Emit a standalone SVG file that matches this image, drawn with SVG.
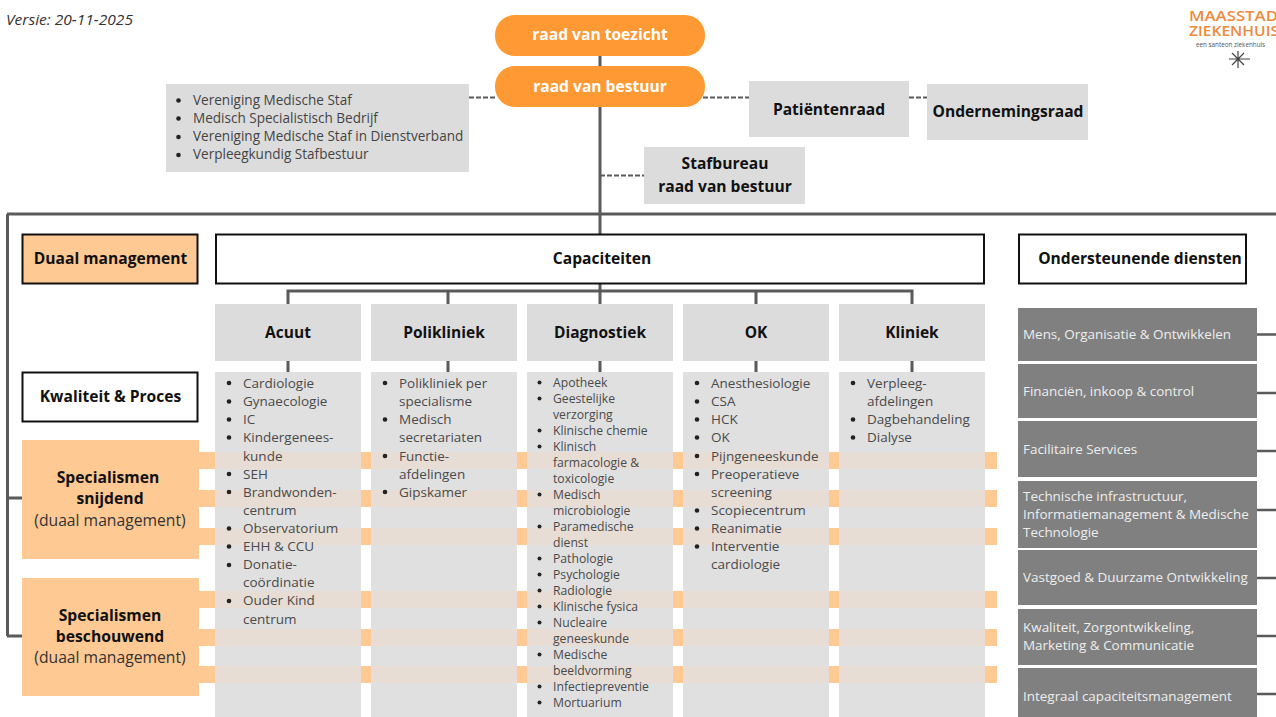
<svg xmlns="http://www.w3.org/2000/svg" width="1276" height="717" viewBox="0 0 1276 717">
<style>
text{font-family:"Open Sans","Noto Sans","DejaVu Sans",sans-serif;}
.h{font-size:15.600px;font-weight:700;fill:#111;text-anchor:middle}
.b{font-size:13.500px;fill:#4a4a4a}
.d{font-size:12.200px;fill:#4a4a4a}
.s{font-size:13.550px;fill:#444}
.w{font-size:13.450px;fill:#eee}
.p{font-size:15.600px;font-weight:700;fill:#fff;text-anchor:middle}
.n{font-size:15.700px;fill:#333;text-anchor:middle}
.box{fill:#fff;stroke:#111;stroke-width:2}
.pill{fill:#ff9933}
.lg{fill:#dcdcdc}
.col{fill:#e0e0e0}
.org{fill:#ffc993}
.band{fill:#ffc993}
.tint{fill:#e7ddd4}
.dk{fill:#808080}
.c{fill:none;stroke:#5a5a5a;stroke-width:3}
.dash{fill:none;stroke:#5a5a5a;stroke-width:2;stroke-dasharray:5 2}
.dot{fill:#222}
.logo{font-weight:600;fill:#ee8a3c;font-size:15px}
.ch{font-size:15.500px}
.sp{font-size:15.700px}
</style>
<rect width="1276" height="717" fill="#fff"/>
<text x="6" y="25" font-size="14" font-style="italic" fill="#333" textLength="127" lengthAdjust="spacingAndGlyphs">Versie: 20-11-2025</text>
<g id="connectors">
<path class="c" d="M600 56V234M7 214H1276M7.500 214V636M7 498H22M7 636H22"/>
<path class="c" d="M600 283V304M288 304V291H912V304M448 291V304M756 291V304"/>
<path class="c" d="M288 361V372M448 361V372M600 361V372M756 361V372M912 361V372"/>
<path class="c" style="stroke-width:2.500" d="M1257 334.500H1276M1257 393H1276M1257 451H1276M1257 510H1276M1257 578H1276M1257 636H1276M1257 694H1276"/>
<path class="dash" d="M469 97.500H495M703 97.500H749M909 97.500H927M600 175.500H644"/>
</g>
<g id="bands">
<rect class="band" x="196" y="452" width="801" height="17"/>
<rect class="band" x="196" y="490" width="801" height="17"/>
<rect class="band" x="196" y="528" width="801" height="17"/>
<rect class="band" x="196" y="591" width="801" height="17"/>
<rect class="band" x="196" y="629" width="801" height="17"/>
<rect class="band" x="196" y="666" width="801" height="17"/>
</g>
<g id="logo">
<text class="logo" x="1189" y="21" textLength="89" lengthAdjust="spacingAndGlyphs">MAASSTAD</text>
<text class="logo" x="1189" y="36" textLength="90" lengthAdjust="spacingAndGlyphs">ZIEKENHUIS</text>
<text x="1196" y="47" font-size="6.300" fill="#555">een santeon ziekenhuis</text>
<path d="M1238 51V68M1232 53L1244 65M1232 65L1244 53M1229 59H1250" stroke="#444" stroke-width="1.200" fill="none"/>
</g>
<g id="raad-van-toezicht"><rect class="pill" x="495" y="15" width="210" height="41" rx="20"/><text class="p" x="600" y="40">raad van toezicht</text></g>
<g id="raad-van-bestuur"><rect class="pill" x="495" y="66" width="210" height="41" rx="20"/><text class="p" x="600" y="91.500">raad van bestuur</text></g>
<g id="medische-staf"><rect class="lg" x="166" y="84" width="303" height="88"/>
<circle class="dot" cx="178.500" cy="100.500" r="2.300"/><text class="s" x="193" y="105">Vereniging Medische Staf</text>
<circle class="dot" cx="178.500" cy="118.500" r="2.300"/><text class="s" x="193" y="123">Medisch Specialistisch Bedrijf</text>
<circle class="dot" cx="178.500" cy="137" r="2.300"/><text class="s" x="193" y="141">Vereniging Medische Staf in Dienstverband</text>
<circle class="dot" cx="178.500" cy="155" r="2.300"/><text class="s" x="193" y="159">Verpleegkundig Stafbestuur</text></g>
<g id="patientenraad"><rect class="lg" x="749" y="81" width="160" height="56"/><text class="h" x="829" y="115">Patiëntenraad</text></g>
<g id="ondernemingsraad"><rect class="lg" x="927" y="84" width="161" height="56"/><text class="h" x="1008" y="117">Ondernemingsraad</text></g>
<g id="stafbureau"><rect class="lg" x="644" y="147" width="161" height="57"/><text class="h" x="725" y="169">Stafbureau</text><text class="h" x="725" y="192">raad van bestuur</text></g>
<g id="duaal-management"><rect x="22.500" y="234.500" width="175" height="49" fill="#ffc993" stroke="#111" stroke-width="2"/><text class="h" x="110.500" y="264">Duaal management</text></g>
<g id="capaciteiten"><rect class="box" x="216" y="234.500" width="768" height="49"/><text class="h" x="602" y="264">Capaciteiten</text></g>
<g id="ondersteunende-diensten"><rect class="box" x="1019" y="234.500" width="227" height="49"/><text class="h" x="1140" y="264">Ondersteunende diensten</text></g>
<g id="kwaliteit-proces"><rect class="box" x="22.500" y="372.500" width="175" height="49"/><text class="h" x="110.500" y="402">Kwaliteit &amp; Proces</text></g>
<g id="specialismen-snijdend"><rect class="org" x="22" y="440" width="177" height="119"/><text class="h sp" x="108" y="483">Specialismen</text><text class="h sp" x="110" y="504">snijdend</text><text class="n" x="110" y="526">(duaal management)</text></g>
<g id="specialismen-beschouwend"><rect class="org" x="22" y="578" width="177" height="118"/><text class="h sp" x="110" y="621">Specialismen</text><text class="h sp" x="110" y="642">beschouwend</text><text class="n" x="110" y="663">(duaal management)</text></g>

<g id="acuut"><rect class="lg" x="215" y="304" width="146" height="57"/><text class="h ch" x="288" y="338">Acuut</text>
<rect class="col" x="215" y="372" width="146" height="345"/>
<rect class="tint" x="215" y="452" width="146" height="17"/><rect class="tint" x="215" y="490" width="146" height="17"/><rect class="tint" x="215" y="528" width="146" height="17"/><rect class="tint" x="215" y="591" width="146" height="17"/><rect class="tint" x="215" y="629" width="146" height="17"/><rect class="tint" x="215" y="666" width="146" height="17"/>
<circle class="dot" cx="229" cy="383" r="2.300"/><text class="b" x="243" y="388">Cardiologie</text>
<circle class="dot" cx="229" cy="401.500" r="2.300"/><text class="b" x="243" y="406">Gynaecologie</text>
<circle class="dot" cx="229" cy="419.500" r="2.300"/><text class="b" x="243" y="424">IC</text>
<circle class="dot" cx="229" cy="437.500" r="2.300"/><text class="b" x="243" y="442">Kindergenees-</text>
<text class="b" x="243" y="460.500">kunde</text>
<circle class="dot" cx="229" cy="474" r="2.300"/><text class="b" x="243" y="479">SEH</text>
<circle class="dot" cx="229" cy="492" r="2.300"/><text class="b" x="243" y="497">Brandwonden-</text>
<text class="b" x="243" y="515">centrum</text>
<circle class="dot" cx="229" cy="528.500" r="2.300"/><text class="b" x="243" y="533">Observatorium</text>
<circle class="dot" cx="229" cy="546.500" r="2.300"/><text class="b" x="243" y="551">EHH &amp; CCU</text>
<circle class="dot" cx="229" cy="565" r="2.300"/><text class="b" x="243" y="569">Donatie-</text>
<text class="b" x="243" y="587">coördinatie</text>
<circle class="dot" cx="229" cy="601" r="2.300"/><text class="b" x="243" y="605">Ouder Kind</text>
<text class="b" x="243" y="623.500">centrum</text></g>

<g id="polikliniek"><rect class="lg" x="371" y="304" width="146" height="57"/><text class="h ch" x="444" y="338">Polikliniek</text>
<rect class="col" x="371" y="372" width="146" height="345"/>
<rect class="tint" x="371" y="452" width="146" height="17"/><rect class="tint" x="371" y="490" width="146" height="17"/><rect class="tint" x="371" y="528" width="146" height="17"/><rect class="tint" x="371" y="591" width="146" height="17"/><rect class="tint" x="371" y="629" width="146" height="17"/><rect class="tint" x="371" y="666" width="146" height="17"/>
<circle class="dot" cx="385" cy="383" r="2.300"/><text class="b" x="399" y="388">Polikliniek per</text>
<text class="b" x="399" y="406">specialisme</text>
<circle class="dot" cx="385" cy="419.500" r="2.300"/><text class="b" x="399" y="424">Medisch</text>
<text class="b" x="399" y="442">secretariaten</text>
<circle class="dot" cx="385" cy="456" r="2.300"/><text class="b" x="399" y="460.500">Functie-</text>
<text class="b" x="399" y="479">afdelingen</text>
<circle class="dot" cx="385" cy="492" r="2.300"/><text class="b" x="399" y="497">Gipskamer</text></g>

<g id="diagnostiek"><rect class="lg" x="527" y="304" width="146" height="57"/><text class="h ch" x="600" y="338">Diagnostiek</text>
<rect class="col" x="527" y="372" width="146" height="345"/>
<rect class="tint" x="527" y="452" width="146" height="17"/><rect class="tint" x="527" y="490" width="146" height="17"/><rect class="tint" x="527" y="528" width="146" height="17"/><rect class="tint" x="527" y="591" width="146" height="17"/><rect class="tint" x="527" y="629" width="146" height="17"/><rect class="tint" x="527" y="666" width="146" height="17"/>
<circle class="dot" cx="539.500" cy="382.500" r="2"/><text class="d" x="553" y="386.500">Apotheek</text>
<circle class="dot" cx="539.500" cy="398.500" r="2"/><text class="d" x="553" y="402.500">Geestelijke</text>
<text class="d" x="553" y="418.500">verzorging</text>
<circle class="dot" cx="539.500" cy="430.500" r="2"/><text class="d" x="553" y="434.500">Klinische chemie</text>
<circle class="dot" cx="539.500" cy="446.500" r="2"/><text class="d" x="553" y="450.500">Klinisch</text>
<text class="d" x="553" y="466.500">farmacologie &amp;</text>
<text class="d" x="553" y="482.500">toxicologie</text>
<circle class="dot" cx="539.500" cy="494.500" r="2"/><text class="d" x="553" y="498.500">Medisch</text>
<text class="d" x="553" y="514.500">microbiologie</text>
<circle class="dot" cx="539.500" cy="526.500" r="2"/><text class="d" x="553" y="530.500">Paramedische</text>
<text class="d" x="553" y="546.500">dienst</text>
<circle class="dot" cx="539.500" cy="558.500" r="2"/><text class="d" x="553" y="562.500">Pathologie</text>
<circle class="dot" cx="539.500" cy="574.500" r="2"/><text class="d" x="553" y="578.500">Psychologie</text>
<circle class="dot" cx="539.500" cy="590.500" r="2"/><text class="d" x="553" y="594.500">Radiologie</text>
<circle class="dot" cx="539.500" cy="606.500" r="2"/><text class="d" x="553" y="610.500">Klinische fysica</text>
<circle class="dot" cx="539.500" cy="622.500" r="2"/><text class="d" x="553" y="626.500">Nucleaire</text>
<text class="d" x="553" y="642.500">geneeskunde</text>
<circle class="dot" cx="539.500" cy="654.500" r="2"/><text class="d" x="553" y="658.500">Medische</text>
<text class="d" x="553" y="674.500">beeldvorming</text>
<circle class="dot" cx="539.500" cy="686.500" r="2"/><text class="d" x="553" y="690.500">Infectiepreventie</text>
<circle class="dot" cx="539.500" cy="702.500" r="2"/><text class="d" x="553" y="706.500">Mortuarium</text></g>

<g id="ok"><rect class="lg" x="683" y="304" width="146" height="57"/><text class="h ch" x="756" y="338">OK</text>
<rect class="col" x="683" y="372" width="146" height="345"/>
<rect class="tint" x="683" y="452" width="146" height="17"/><rect class="tint" x="683" y="490" width="146" height="17"/><rect class="tint" x="683" y="528" width="146" height="17"/><rect class="tint" x="683" y="591" width="146" height="17"/><rect class="tint" x="683" y="629" width="146" height="17"/><rect class="tint" x="683" y="666" width="146" height="17"/>
<circle class="dot" cx="697" cy="383" r="2.300"/><text class="b" x="711" y="388">Anesthesiologie</text>
<circle class="dot" cx="697" cy="401.500" r="2.300"/><text class="b" x="711" y="406">CSA</text>
<circle class="dot" cx="697" cy="419.500" r="2.300"/><text class="b" x="711" y="424">HCK</text>
<circle class="dot" cx="697" cy="437.500" r="2.300"/><text class="b" x="711" y="442">OK</text>
<circle class="dot" cx="697" cy="456" r="2.300"/><text class="b" x="711" y="460.500">Pijngeneeskunde</text>
<circle class="dot" cx="697" cy="474" r="2.300"/><text class="b" x="711" y="479">Preoperatieve</text>
<text class="b" x="711" y="497">screening</text>
<circle class="dot" cx="697" cy="510.500" r="2.300"/><text class="b" x="711" y="515">Scopiecentrum</text>
<circle class="dot" cx="697" cy="528.500" r="2.300"/><text class="b" x="711" y="533">Reanimatie</text>
<circle class="dot" cx="697" cy="546.500" r="2.300"/><text class="b" x="711" y="551">Interventie</text>
<text class="b" x="711" y="569">cardiologie</text></g>

<g id="kliniek"><rect class="lg" x="839" y="304" width="146" height="57"/><text class="h ch" x="912" y="338">Kliniek</text>
<rect class="col" x="839" y="372" width="146" height="345"/>
<rect class="tint" x="839" y="452" width="146" height="17"/><rect class="tint" x="839" y="490" width="146" height="17"/><rect class="tint" x="839" y="528" width="146" height="17"/><rect class="tint" x="839" y="591" width="146" height="17"/><rect class="tint" x="839" y="629" width="146" height="17"/><rect class="tint" x="839" y="666" width="146" height="17"/>
<circle class="dot" cx="853" cy="383" r="2.300"/><text class="b" x="867" y="388">Verpleeg-</text>
<text class="b" x="867" y="406">afdelingen</text>
<circle class="dot" cx="853" cy="419.500" r="2.300"/><text class="b" x="867" y="424">Dagbehandeling</text>
<circle class="dot" cx="853" cy="437.500" r="2.300"/><text class="b" x="867" y="442">Dialyse</text></g>

<g id="mens"><rect class="dk" x="1018" y="308" width="239" height="53"/><text class="w" x="1023" y="339">Mens, Organisatie &amp; Ontwikkelen</text></g>
<g id="financien"><rect class="dk" x="1018" y="364" width="239" height="54"/><text class="w" x="1023" y="396">Financiën, inkoop &amp; control</text></g>
<g id="facilitair"><rect class="dk" x="1018" y="421" width="239" height="56"/><text class="w" x="1023" y="454">Facilitaire Services</text></g>
<g id="techniek"><rect class="dk" x="1018" y="481" width="239" height="67"/><text class="w" x="1023" y="501">Technische infrastructuur,</text><text class="w" x="1023" y="519">Informatiemanagement &amp; Medische</text><text class="w" x="1023" y="537">Technologie</text></g>
<g id="vastgoed"><rect class="dk" x="1018" y="550" width="239" height="55"/><text class="w" x="1023" y="582">Vastgoed &amp; Duurzame Ontwikkeling</text></g>
<g id="kwaliteit-zorg"><rect class="dk" x="1018" y="609" width="239" height="56"/><text class="w" x="1023" y="632">Kwaliteit, Zorgontwikkeling,</text><text class="w" x="1023" y="650">Marketing &amp; Communicatie</text></g>
<g id="integraal"><rect class="dk" x="1018" y="668" width="239" height="49"/><text class="w" x="1023" y="701">Integraal capaciteitsmanagement</text></g>
</svg>
